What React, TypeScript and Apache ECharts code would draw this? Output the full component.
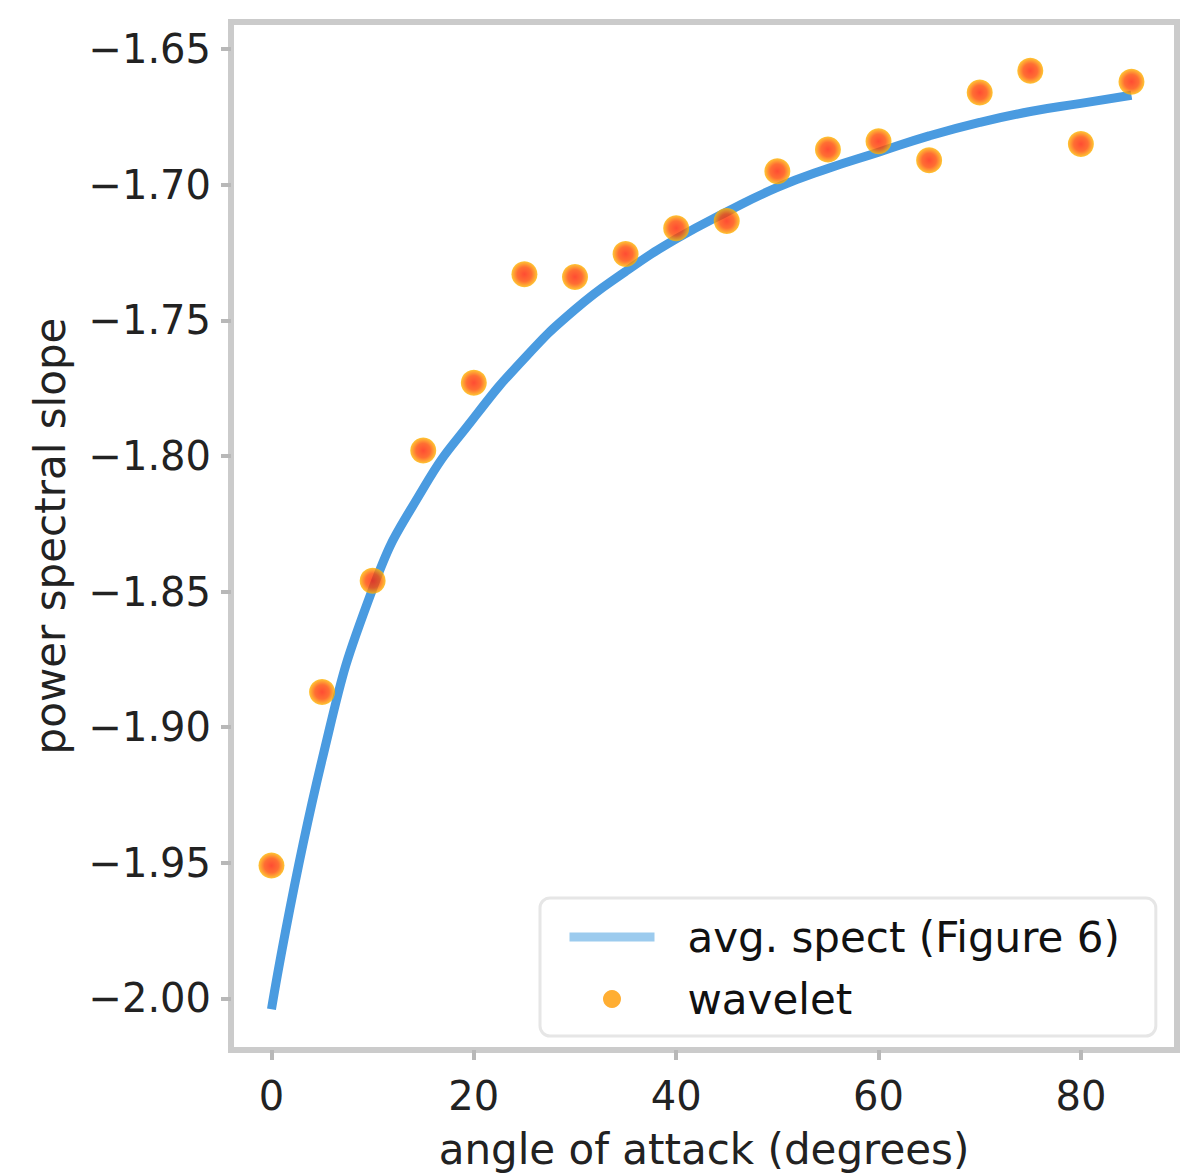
import React, { useEffect, useRef } from "react";
import * as echarts from "echarts";

const angles = [0, 5, 10, 15, 20, 25, 30, 35, 40, 45, 50, 55, 60, 65, 70, 75, 80, 85];
const avgSpect = [-2.004, -1.912, -1.849, -1.812, -1.786, -1.764, -1.746, -1.732, -1.72, -1.71, -1.701, -1.694, -1.688, -1.682, -1.677, -1.673, -1.67, -1.667];
const wavelet = [-1.951, -1.887, -1.846, -1.798, -1.773, -1.733, -1.734, -1.7255, -1.716, -1.7134, -1.695, -1.687, -1.684, -1.691, -1.666, -1.658, -1.685, -1.662];
const xTicks = [0, 20, 40, 60, 80];
const yTicks = [-2.0, -1.95, -1.9, -1.85, -1.8, -1.75, -1.7, -1.65];

const FONT = "DejaVu Sans";

export default function App() {
  const ref = useRef<HTMLDivElement>(null);
  useEffect(() => {
    if (!ref.current) return;
    const chart = echarts.init(ref.current, undefined, { renderer: "svg" });
    const lineData = angles.map((a, i) => [a, avgSpect[i]]);
    const scatterData = angles.map((a, i) => [a, wavelet[i]]);
    chart.setOption({
      animation: false,
      backgroundColor: "#ffffff",
      grid: {
        left: 231,
        right: 23,
        top: 22,
        bottom: 126,
        show: true,
        borderColor: "#cbcbcb",
        borderWidth: 6,
        backgroundColor: "#ffffff",
      },
      xAxis: {
        type: "value",
        min: -4,
        max: 89.5,
        name: "angle of attack (degrees)",
        nameLocation: "middle",
        nameGap: 78,
        nameTextStyle: { fontFamily: FONT, fontSize: 42, color: "#222" },
        axisLine: { show: false, onZero: false },
        splitLine: { show: false },
        axisTick: { show: true, length: 10, lineStyle: { color: "#b8b8b8", width: 4 }, customValues: xTicks },
        axisLabel: {
          fontFamily: FONT,
          fontSize: 40,
          color: "#222",
          margin: 26,
          customValues: xTicks,
          formatter: (v: number) => String(v),
        },
      },
      yAxis: {
        type: "value",
        min: -2.019,
        max: -1.64,
        name: "power spectral slope",
        nameLocation: "middle",
        nameGap: 160,
        nameTextStyle: { fontFamily: FONT, fontSize: 42, color: "#222" },
        axisLine: { show: false, onZero: false },
        splitLine: { show: false },
        axisTick: { show: true, length: 10, lineStyle: { color: "#b8b8b8", width: 4 }, customValues: yTicks },
        axisLabel: {
          fontFamily: FONT,
          fontSize: 40,
          color: "#222",
          margin: 20,
          customValues: yTicks,
          formatter: (v: number) => v.toFixed(2).replace("-", "\u2212"),
        },
      },
      legend: {
        orient: "vertical",
        left: 540,
        top: 898,
        backgroundColor: "#ffffff",
        borderColor: "#e6e6e6",
        borderWidth: 3,
        borderRadius: 10,
        padding: [16, 36, 14, 25],
        itemWidth: 85,
        itemHeight: 18,
        itemGap: 16,
        textStyle: { fontFamily: FONT, fontSize: 42, color: "#111", padding: [0, 0, 0, 28], lineHeight: 46 },
        data: [
          {
            name: "avg. spect (Figure 6)",
            lineStyle: { color: "#9ccbee", width: 9 },
            itemStyle: { opacity: 0 },
          },
          { name: "wavelet", icon: "circle", itemStyle: { color: "#ff9a00" } },
        ],
      },
      series: [
        {
          name: "avg. spect (Figure 6)",
          type: "line",
          data: lineData,
          smooth: 0.5,
          symbol: "none",
          lineStyle: { color: "#4a9be0", width: 9 },
          z: 2,
        },
        {
          name: "wavelet",
          type: "scatter",
          data: scatterData,
          symbolSize: 26,
          itemStyle: {
            color: {
              type: "radial",
              x: 0.5,
              y: 0.5,
              r: 0.5,
              colorStops: [
                { offset: 0, color: "#ff2000" },
                { offset: 0.55, color: "#ff4a00" },
                { offset: 1, color: "#ffb800" },
              ],
            },
          },
          z: 3,
        },
      ],
    });
    return () => chart.dispose();
  }, []);
  return (
    <div
      ref={ref}
      style={{ position: "fixed", left: 0, top: 0, width: 1200, height: 1176 }}
    />
  );
}
